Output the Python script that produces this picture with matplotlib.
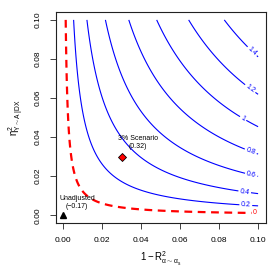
import numpy as np
import matplotlib
matplotlib.use("Agg")
import matplotlib.pyplot as plt

plt.rcParams['font.family'] = ['Liberation Sans', 'DejaVu Sans']
plt.rcParams['mathtext.fontset'] = 'custom'
plt.rcParams['mathtext.rm'] = 'Liberation Sans'
plt.rcParams['mathtext.it'] = 'Liberation Sans:italic'

# sensitivity surface: adjusted = theta0 + scale * sqrt(eta2 * r2 / (1 - r2))
theta0 = -0.185
scale = 16.7
unadj_label = -0.17
scenario_x = 0.03
scenario_y = 0.03
scenario_label = 0.32
blue_levels = [0.2, 0.4, 0.6, 0.8, 1.0, 1.2, 1.4]
red_levels = [0.0]
# where the contour labels sit (near the right end of each line)
blue_label_pos = [(0.0937, 0.0053), (0.0933, 0.0132), (0.097, 0.0229), (0.0974, 0.0358),
                  (0.0938, 0.052), (0.0976, 0.067), (0.098, 0.085)]
red_label_pos = [(0.0985, 0.001)]
ticks = [0.00, 0.02, 0.04, 0.06, 0.08, 0.10]

gx = np.linspace(0, 0.1, 401)
gy = np.linspace(0, 0.1, 401)
X, Y = np.meshgrid(gx, gy)
Z = theta0 + scale * np.sqrt(Y * X / (1 - X))

fig = plt.figure(figsize=(2.79, 2.79), dpi=100)
ax = fig.add_axes([0.199, 0.2007, 0.754, 0.756])

cs = ax.contour(X, Y, Z, levels=blue_levels, colors='blue', linewidths=0.8)
ax.clabel(cs, fmt=lambda v: f'{v:g}', fontsize=5, manual=blue_label_pos, inline_spacing=2)
cr = ax.contour(X, Y, Z, levels=red_levels, colors='red', linewidths=1.6, linestyles='--')
cr.set_dashes([(0, (3.5, 2.5))])
ax.clabel(cr, fmt=lambda v: f'{v:g}', fontsize=5, manual=red_label_pos, inline_spacing=2)

ax.plot([0], [0], marker='^', color='black', markersize=5, linestyle='none')
ax.plot([scenario_x], [scenario_y], marker='D', markerfacecolor='red', markeredgecolor='black',
        markeredgewidth=0.6, markersize=4.5, linestyle='none')
ax.text(0.007, 0.0065, f'Unadjusted\n({unadj_label:.2f})'.replace('-', '\u2212'),
        ha='center', va='center', fontsize=5, linespacing=1.1)
ax.text(0.0385, 0.0373, f'3% Scenario\n({scenario_label:.2f})',
        ha='center', va='center', fontsize=5, linespacing=1.1)

ax.set_xlim(-0.004, 0.104)
ax.set_ylim(-0.004, 0.104)
ax.set_xticks(ticks)
ax.set_yticks(ticks)
ax.set_xticklabels([f'{t:.2f}' for t in ticks])
ax.set_yticklabels([f'{t:.2f}' for t in ticks], rotation=90, va='center')
ax.tick_params(labelsize=6, length=4, width=0.6, pad=6, color='#222222')
for s in ax.spines.values():
    s.set_linewidth(0.8)
    s.set_color('#222222')

ax.set_xlabel(r'$\mathrm{1-R^2_{\alpha\sim\alpha_s}}$', fontsize=7, labelpad=4)
ax.set_ylabel(r'$\mathrm{\eta^2_{Y\sim A\,|\,DX}}$', fontsize=7, labelpad=6)

fig.savefig('out.png', dpi=100)
